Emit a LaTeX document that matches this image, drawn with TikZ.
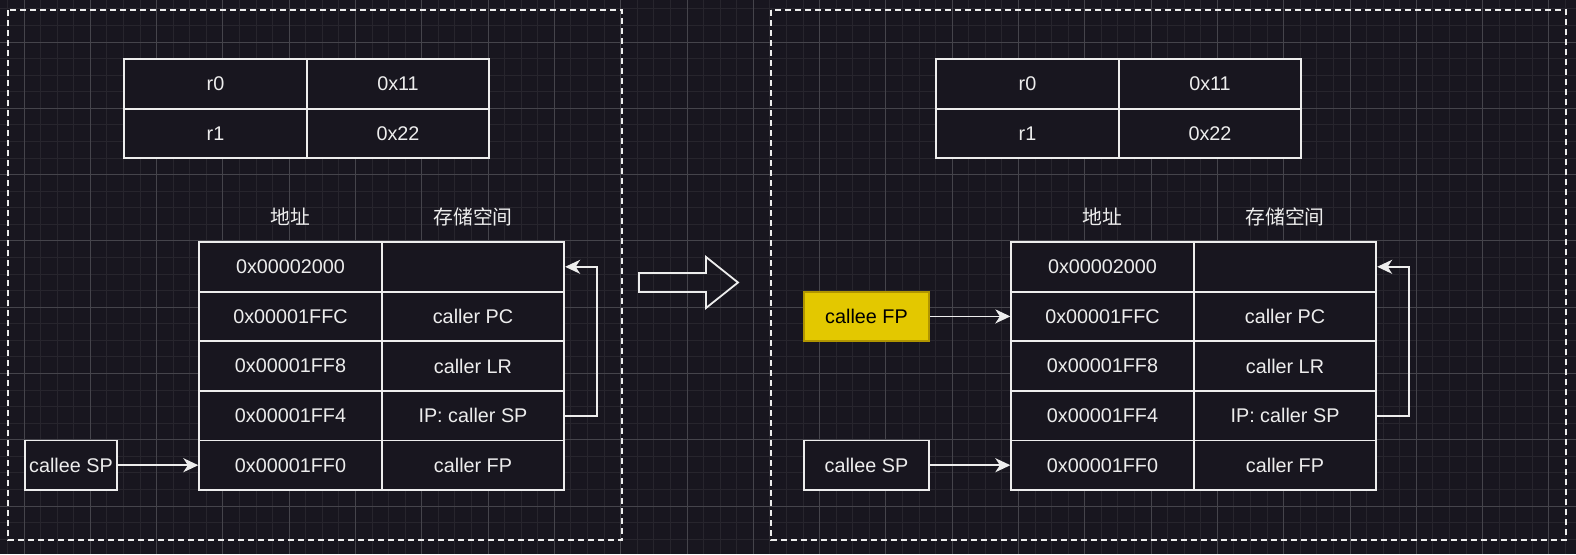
\documentclass[tikz,border=0pt]{standalone}
\usepackage{fontspec}
\setmainfont{Liberation Sans}
\newfontfamily\cjk{Noto Sans CJK SC}
\usetikzlibrary{arrows.meta}
\definecolor{bgc}{HTML}{18161F}
\definecolor{minorc}{HTML}{27252D}
\definecolor{majorc}{HTML}{45444B}
\definecolor{linec}{HTML}{EDEDED}
\definecolor{yfill}{HTML}{E3C800}
\definecolor{ystroke}{HTML}{B09500}
\tikzset{
  cell/.style={draw=linec, line width=1.8pt, fill=bgc, text=linec, inner sep=0pt,
    minimum width=182.5pt, minimum height=49.6pt, font=\fontsize{19.8}{24}\selectfont},
  callee/.style={cell, minimum height=49.5pt},
  yellowbox/.style={draw=ystroke, line width=1.8pt, fill=yfill, text=black, inner sep=0pt,
    minimum width=125pt, minimum height=49.6pt, font=\fontsize{19.8}{24}\selectfont},
  header/.style={text=linec, inner sep=0pt, font=\cjk\fontsize{19.8}{24}\selectfont},
  framebox/.style={draw=linec, line width=1.8pt, dash pattern=on 6pt off 4pt},
  conn/.style={draw=linec, line width=1.8pt, -{Stealth[length=15pt, width=14pt, inset=4.5pt]}},
  bigarrow/.style={draw=linec, line width=1.8pt, line join=miter}
}
\begin{document}
\begin{tikzpicture}[x=1pt,y=-1pt]
\useasboundingbox (0,0) rectangle (1576,554);
\fill[bgc] (0,0) rectangle (1576,554);
% grid
\foreach \i in {0,...,95} { \draw[minorc, line width=1pt] ({7.425+\i*16.575},0) -- ++(0,554); }
\foreach \i in {0,...,32} { \draw[minorc, line width=1pt] (0,{8.85+\i*16.575}) -- ++(1576,0); }
\foreach \i in {0,...,23} { \draw[majorc, line width=1pt] ({24+\i*66.3},0) -- ++(0,554); }
\foreach \i in {0,...,7} { \draw[majorc, line width=1pt] (0,{42+\i*66.3}) -- ++(1576,0); }

% dashed frames
\draw[framebox] (8,10) rectangle (622,540);
\draw[framebox] (771,10) rectangle (1566,540);

% ---------- left panel ----------
\node[cell] (lr0a) at (215.5,84) {r0};
\node[cell] (lr0b) at (398,84) {0x11};
\node[cell] (lr1a) at (215.5,133.5) {r1};
\node[cell] (lr1b) at (398,133.5) {0x22};

\node[header] (lh1) at (290.5,217) {地址};
\node[header] (lh2) at (473,217) {存储空间};

\node[cell] (la0) at (290.5,266.8) {0x00002000};
\node[cell] (lb0) at (473,266.8) {};
\node[cell] (la1) at (290.5,316.4) {0x00001FFC};
\node[cell] (lb1) at (473,316.4) {caller PC};
\node[cell] (la2) at (290.5,366) {0x00001FF8};
\node[cell] (lb2) at (473,366) {caller LR};
\node[cell] (la3) at (290.5,415.6) {0x00001FF4};
\node[cell] (lb3) at (473,415.6) {IP: caller SP};
\node[cell] (la4) at (290.5,465.2) {0x00001FF0};
\node[cell] (lb4) at (473,465.2) {caller FP};

\node[callee, minimum width=92pt] (lsp) at (71,465.2) {callee SP};
\draw[conn] (lsp.east) -- (la4.west);
\coordinate (lloop) at (597,415.6);
\draw[conn] (lb3.east) -- (lloop) |- (lb0.east);

% ---------- big arrow ----------
\draw[bigarrow] (639,273) -- (706,273) -- (706,257) -- (738,282.5) -- (706,308) -- (706,292) -- (639,292) -- cycle;

% ---------- right panel ----------
\node[cell] (rr0a) at (1027.5,84) {r0};
\node[cell] (rr0b) at (1210,84) {0x11};
\node[cell] (rr1a) at (1027.5,133.5) {r1};
\node[cell] (rr1b) at (1210,133.5) {0x22};

\node[header] (rh1) at (1102.5,217) {地址};
\node[header] (rh2) at (1285,217) {存储空间};

\node[cell] (ra0) at (1102.5,266.8) {0x00002000};
\node[cell] (rb0) at (1285,266.8) {};
\node[cell] (ra1) at (1102.5,316.4) {0x00001FFC};
\node[cell] (rb1) at (1285,316.4) {caller PC};
\node[cell] (ra2) at (1102.5,366) {0x00001FF8};
\node[cell] (rb2) at (1285,366) {caller LR};
\node[cell] (ra3) at (1102.5,415.6) {0x00001FF4};
\node[cell] (rb3) at (1285,415.6) {IP: caller SP};
\node[cell] (ra4) at (1102.5,465.2) {0x00001FF0};
\node[cell] (rb4) at (1285,465.2) {caller FP};

\node[yellowbox] (rfp) at (866.5,316.4) {callee FP};
\node[callee, minimum width=125pt] (rsp) at (866.5,465.2) {callee SP};
\draw[conn] (rfp.east) -- (ra1.west);
\draw[conn] (rsp.east) -- (ra4.west);
\coordinate (rloop) at (1409,415.6);
\draw[conn] (rb3.east) -- (rloop) |- (rb0.east);
\end{tikzpicture}
\end{document}
